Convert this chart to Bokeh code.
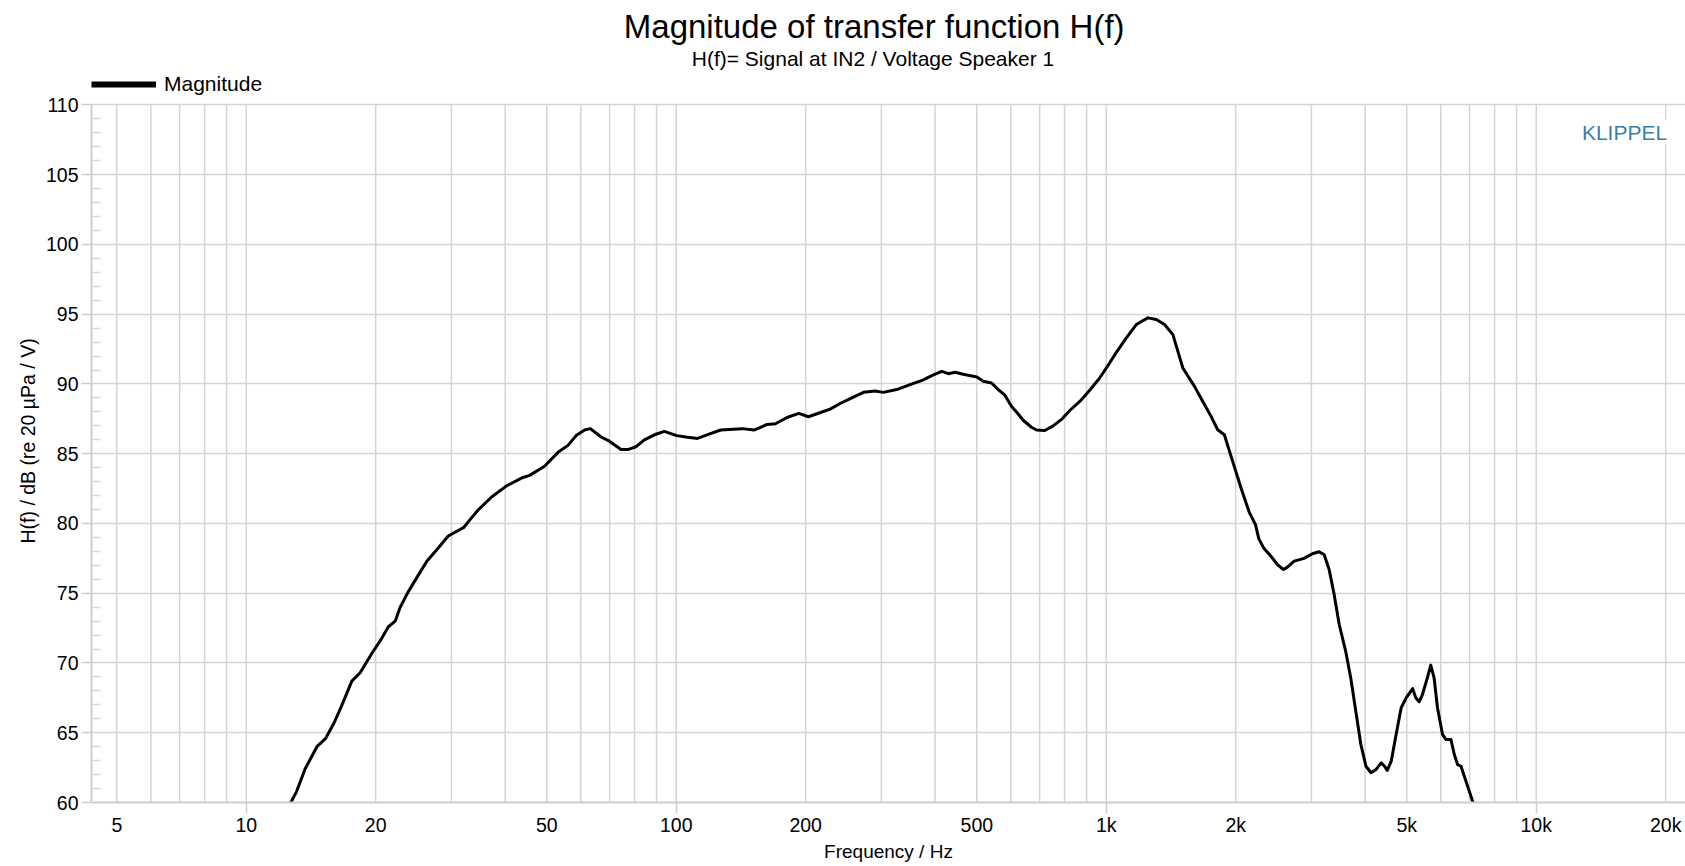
from bokeh.plotting import figure
from bokeh.models import FixedTicker, Label, Legend, LegendItem, Range1d, Title
from bokeh.embed import file_html
from bokeh.resources import INLINE

# ---------------- data ----------------
freq_hz = [12.5, 13.1, 13.7, 14.6, 15.3, 16.0, 16.7, 17.6, 18.4, 19.6, 20.5, 21.4, 22.2, 22.8,
           23.8, 24.9, 26.3, 27.7, 29.5, 32.0, 33.4, 34.7, 37.2, 40.3, 44.0, 45.6, 49.4, 53.1,
           56.0, 58.5, 61.2, 63.1, 66.9, 69.9, 74.4, 77.1, 80.6, 84.3, 89.7, 93.8, 100.3, 105.3,
           112, 119.2, 126.9, 142.4, 151.6, 162.7, 170.1, 181, 192.7, 203, 214, 228, 240.6,
           253.9, 272.6, 290, 303, 325.8, 349.8, 375.7, 392.8, 414.4, 429.5, 444.9, 465.1, 500,
           517.6, 541.2, 560.8, 581, 602, 624, 641, 670, 688.5, 719.7, 752.6, 786.8, 822.7,
           867.9, 915.4, 965.4, 1018, 1055.7, 1113.6, 1174.6, 1249.8, 1307.2, 1366.6, 1428.8,
           1467.5, 1507.2, 1604, 1676, 1753, 1816, 1882, 1968, 2058, 2151, 2223, 2264, 2328,
           2415, 2500, 2582, 2638, 2735, 2884, 3016, 3126, 3211, 3299, 3389, 3482, 3604, 3703,
           3805, 3910, 4018, 4129, 4243, 4360, 4439, 4503, 4600, 4722, 4852, 4983, 5158, 5247,
           5342, 5437, 5583, 5684, 5787, 5893, 6054, 6163, 6333, 6448, 6564, 6683, 6864, 7111,
           7250]
mag_db = [59.6, 60.8, 62.4, 64.0, 64.6, 65.7, 67.0, 68.7, 69.3, 70.7, 71.6, 72.6, 73.0, 74.0,
          75.1, 76.1, 77.3, 78.1, 79.1, 79.7, 80.4, 81.0, 81.9, 82.7, 83.3, 83.45, 84.1, 85.1,
          85.6, 86.3, 86.7, 86.8, 86.2, 85.9, 85.3, 85.3, 85.5, 86.0, 86.4, 86.6, 86.3, 86.2,
          86.1, 86.4, 86.7, 86.8, 86.7, 87.1, 87.15, 87.6, 87.9, 87.65, 87.9, 88.2, 88.6,
          88.95, 89.4, 89.5, 89.4, 89.6, 89.95, 90.3, 90.6, 90.9, 90.74, 90.84, 90.7, 90.5,
          90.2, 90.07, 89.6, 89.2, 88.4, 87.85, 87.4, 86.9, 86.7, 86.67, 87.0, 87.46, 88.1,
          88.75, 89.55, 90.43, 91.5, 92.27, 93.3, 94.26, 94.74, 94.62, 94.26, 93.54,
          92.34, 91.15, 89.83, 88.76, 87.68, 86.72, 86.36, 84.45, 82.54, 80.8, 79.93, 78.9, 78.2,
          77.66, 77.06, 76.7, 76.87, 77.3, 77.5, 77.83, 77.97, 77.78, 76.7, 74.9, 72.76, 70.85, 68.94,
          66.55, 64.16, 62.6, 62.13, 62.37, 62.84, 62.6, 62.3, 62.96, 64.88, 66.79, 67.5, 68.17, 67.5,
          67.22, 67.74, 68.94, 69.85, 68.94, 66.79, 64.88, 64.52, 64.52, 63.44, 62.72, 62.6, 61.53, 60.1,
          59.6]

x_tick_values = [5, 10, 20, 50, 100, 200, 500, 1000, 2000, 5000, 10000, 20000]
x_tick_labels = ["5", "10", "20", "50", "100", "200", "500", "1k", "2k", "5k", "10k", "20k"]
x_decades = [10, 100, 1000, 10000]
x_grid_values = [m * d for d in [1, 10, 100, 1000, 10000] for m in range(1, 10) if 4.3 < m * d < 22500]
y_tick_values = list(range(60, 111, 5))
y_minor_values = [v for v in range(60, 111) if v % 5]
y_low, y_high = 60, 110

title_text = "Magnitude of transfer function H(f)"
subtitle_text = "H(f)= Signal at IN2 / Voltage Speaker 1"
x_label_text = "Frequency / Hz"
y_label_text = "H(f) / dB (re 20 \u00b5Pa / V)"
legend_text = "Magnitude"
brand_text = "KLIPPEL"

FONT = "Liberation Sans"
GRID = "#d4d4d4"
AXIS = "#cdcdcd"
TXT = "#000000"

# frame covers the header area too; the scale keeps 60..110 dB in the plotting region
p = figure(width=1685, height=866, x_axis_type="log",
           x_range=Range1d(4.366, 22240), y_range=Range1d(60, 117.49),
           output_backend="svg", toolbar_location=None,
           min_border_left=91, min_border_right=0, min_border_top=0, min_border_bottom=64)
p.outline_line_color = None
p.background_fill_color = "white"
p.border_fill_color = "white"

# x axis
p.xaxis.ticker = FixedTicker(ticks=x_tick_values, minor_ticks=x_decades)
p.xaxis.major_label_overrides = {v: l for v, l in zip(x_tick_values, x_tick_labels)}
p.xaxis.major_tick_out = 0
p.xaxis.major_tick_in = 0
p.xaxis.minor_tick_out = 11
p.xaxis.minor_tick_in = 0
p.xaxis.minor_tick_line_color = AXIS
p.xaxis.minor_tick_line_width = 1.5
p.xaxis.axis_line_color = AXIS
p.xaxis.axis_line_width = 2
p.xaxis.major_label_text_font = FONT
p.xaxis.major_label_text_font_size = "19.5px"
p.xaxis.major_label_text_color = TXT
p.xaxis.major_label_standoff = 0
p.xaxis.axis_label = x_label_text
p.xaxis.axis_label_text_font = FONT
p.xaxis.axis_label_text_font_size = "19px"
p.xaxis.axis_label_text_font_style = "normal"
p.xaxis.axis_label_text_color = TXT
p.xaxis.axis_label_standoff = 2

# y axis
p.yaxis.ticker = FixedTicker(ticks=y_tick_values, minor_ticks=y_minor_values)
p.yaxis.bounds = (y_low, y_high)
p.yaxis.major_tick_out = 10
p.yaxis.major_tick_in = 0
p.yaxis.major_tick_line_color = AXIS
p.yaxis.major_tick_line_width = 1.5
p.yaxis.minor_tick_in = 9
p.yaxis.minor_tick_out = 0
p.yaxis.minor_tick_line_color = "#d6d6d6"
p.yaxis.minor_tick_line_width = 1.5
p.yaxis.axis_line_color = AXIS
p.yaxis.axis_line_width = 2
p.yaxis.major_label_text_font = FONT
p.yaxis.major_label_text_font_size = "19.5px"
p.yaxis.major_label_text_color = TXT
p.yaxis.major_label_standoff = 3

# y axis title in the left panel
p.add_layout(Title(text=y_label_text, align="left", offset=259, standoff=8,
                   vertical_align="bottom", text_font=FONT, text_font_size="19.5px",
                   text_font_style="normal", text_color=TXT), "left")

# grids: horizontal via the grid, vertical lines limited to the plotting band
p.xgrid.visible = False
p.ygrid.grid_line_color = GRID
p.ygrid.grid_line_width = 1.7
n_grid = len(x_grid_values)
p.segment(x0=x_grid_values, y0=[y_low] * n_grid, x1=x_grid_values, y1=[y_high] * n_grid,
          line_color=GRID, line_width=1.5, level="underlay")

# curve
p.line(freq_hz, mag_db, line_width=3, color="black", line_join="round")

# legend (thicker sample line)
leg_r = p.line(x=[float("nan")], y=[float("nan")], line_width=6, color="black")
legend = Legend(items=[LegendItem(label=legend_text, renderers=[leg_r])],
                location=(0, 706), padding=0, margin=0, border_line_color=None,
                background_fill_alpha=0, glyph_width=65, glyph_height=24, label_height=24,
                label_standoff=8, label_text_font=FONT, label_text_font_size="21px",
                label_text_color=TXT)
p.add_layout(legend)

# titles and brand mark
p.add_layout(Label(x=288.6, y=115.66, text=title_text, text_align="center",
                   text_baseline="middle", text_font=FONT, text_font_size="33px",
                   text_color=TXT))
p.add_layout(Label(x=286.8, y=113.36, text=subtitle_text, text_align="center",
                   text_baseline="middle", text_font=FONT, text_font_size="21px",
                   text_color=TXT))
p.add_layout(Label(x=16046, y=108.06, text=brand_text, text_align="center",
                   text_baseline="middle", text_font=FONT, text_font_size="21px",
                   text_color="#3b7ea8", background_fill_color="white"))

open("out.html", "w").write(file_html(p, INLINE))
